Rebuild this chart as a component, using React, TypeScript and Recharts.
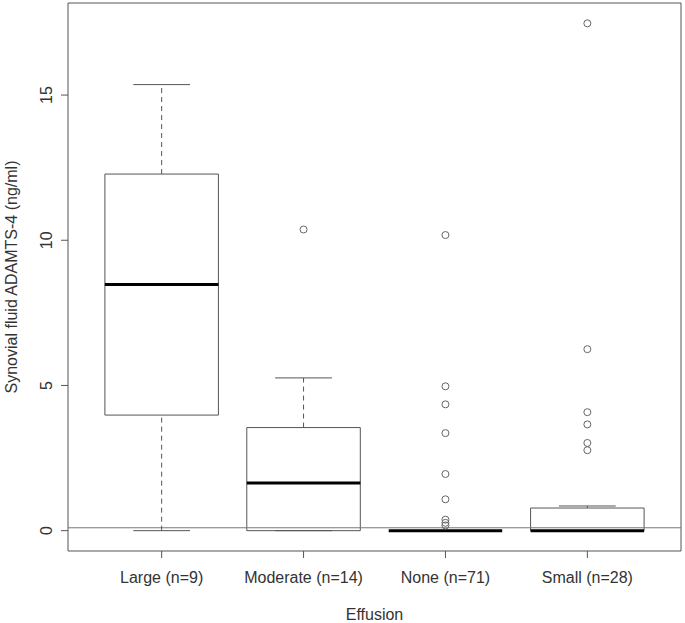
import {
  ComposedChart,
  Scatter,
  XAxis,
  YAxis,
  ReferenceArea,
  ReferenceLine,
} from "recharts";

const categories = ["Large (n=9)", "Moderate (n=14)", "None (n=71)", "Small (n=28)"];
const lowerWhisker = [0, 0, 0, 0];
const q1 = [3.98, 0, 0, 0];
const median = [8.48, 1.64, 0, 0];
const q3 = [12.28, 3.55, 0, 0.78];
const upperWhisker = [15.36, 5.26, 0, 0.85];
const outliers: number[][] = [
  [],
  [10.37],
  [10.18, 4.97, 4.35, 3.36, 1.95, 1.08, 0.38, 0.27, 0.18],
  [17.47, 6.25, 4.08, 3.66, 3.02, 2.77],
];
const yTicks = [0, 5, 10, 15];
const detectionLimit = 0.1;

const xDomain: [number, number] = [0.34, 4.66];
const yDomain: [number, number] = [-0.7, 18.17];
const boxHalf = 0.4;
const capHalf = 0.2;

const font = "'Liberation Sans', Arial, sans-serif";
const textColor = "#333";
const lineColor = "#555";

const outlierPoints = outliers.flatMap((vals, i) =>
  vals.map((v) => ({ x: i + 1, y: v }))
);

function XTick(props: any) {
  const { x, y, payload } = props;
  return (
    <text x={x} y={y + 23} textAnchor="middle" fontSize={16} fontFamily={font} fill={textColor}>
      {categories[payload.value - 1]}
    </text>
  );
}

function YTick(props: any) {
  const { x, y, payload } = props;
  return (
    <text
      x={x - 7}
      y={y}
      transform={`rotate(-90 ${x - 7} ${y})`}
      textAnchor="middle"
      fontSize={16}
      fontFamily={font}
      fill={textColor}
    >
      {payload.value}
    </text>
  );
}

export default function App() {
  return (
    <div style={{ position: "absolute", left: 0, top: 0, background: "#fff" }}>
      <ComposedChart
        width={685}
        height={623}
        data={outlierPoints}
        margin={{ top: 3, right: 4, bottom: 0, left: 0 }}
      >
        <XAxis
          dataKey="x"
          type="number"
          domain={xDomain}
          allowDataOverflow
          ticks={[1, 2, 3, 4]}
          axisLine={false}
          tickSize={7}
          tickMargin={2}
          tickLine={{ stroke: lineColor }}
          tick={<XTick />}
          height={72}
          interval={0}
          label={{
            content: ({ viewBox }: any) => (
              <text
                x={viewBox.x + viewBox.width / 2}
                y={viewBox.y + 69}
                textAnchor="middle"
                fontSize={16}
                fontFamily={font}
                fill={textColor}
              >
                Effusion
              </text>
            ),
          }}
        />
        <YAxis
          dataKey="y"
          type="number"
          domain={yDomain}
          allowDataOverflow
          ticks={yTicks}
          axisLine={false}
          tickSize={7}
          tickMargin={2}
          tickLine={{ stroke: lineColor }}
          tick={<YTick />}
          width={68}
          interval={0}
          label={{
            content: ({ viewBox }: any) => {
              const cx = viewBox.x + 17;
              const cy = viewBox.y + viewBox.height / 2;
              return (
                <text
                  x={cx}
                  y={cy}
                  transform={`rotate(-90 ${cx} ${cy})`}
                  textAnchor="middle"
                  fontSize={16}
                  fontFamily={font}
                  fill={textColor}
                >
                  Synovial fluid ADAMTS-4 (ng/ml)
                </text>
              );
            },
          }}
        />

        {/* plot frame */}
        <ReferenceArea
          x1={xDomain[0]}
          x2={xDomain[1]}
          y1={yDomain[0]}
          y2={yDomain[1]}
          fill="none"
          stroke={lineColor}
          strokeWidth={1}
          ifOverflow="visible"
        />

        {/* horizontal reference line */}
        <ReferenceLine y={detectionLimit} stroke="#777" strokeWidth={1} />

        {categories.map((_, i) => {
          const c = i + 1;
          return [
            <ReferenceLine
              key={`wl${i}`}
              segment={[{ x: c, y: lowerWhisker[i] }, { x: c, y: q1[i] }]}
              stroke={lineColor}
              strokeDasharray="5 4"
            />,
            <ReferenceLine
              key={`wu${i}`}
              segment={[{ x: c, y: q3[i] }, { x: c, y: upperWhisker[i] }]}
              stroke={lineColor}
              strokeDasharray="5 4"
            />,
            <ReferenceLine
              key={`cl${i}`}
              segment={[{ x: c - capHalf, y: lowerWhisker[i] }, { x: c + capHalf, y: lowerWhisker[i] }]}
              stroke={lineColor}
            />,
            <ReferenceLine
              key={`cu${i}`}
              segment={[{ x: c - capHalf, y: upperWhisker[i] }, { x: c + capHalf, y: upperWhisker[i] }]}
              stroke={lineColor}
            />,
            <ReferenceArea
              key={`b${i}`}
              x1={c - boxHalf}
              x2={c + boxHalf}
              y1={q1[i]}
              y2={q3[i]}
              fill="none"
              fillOpacity={0}
              stroke={lineColor}
              strokeWidth={1}
              ifOverflow="visible"
            />,
            <ReferenceLine
              key={`m${i}`}
              segment={[{ x: c - boxHalf, y: median[i] }, { x: c + boxHalf, y: median[i] }]}
              stroke="#000"
              strokeWidth={3}
            />,
          ];
        })}

        <Scatter
          dataKey="y"
          isAnimationActive={false}
          shape={(p: any) => (
            <circle cx={p.cx} cy={p.cy} r={3.5} fill="none" stroke="#666" strokeWidth={1} />
          )}
        />
      </ComposedChart>
    </div>
  );
}
